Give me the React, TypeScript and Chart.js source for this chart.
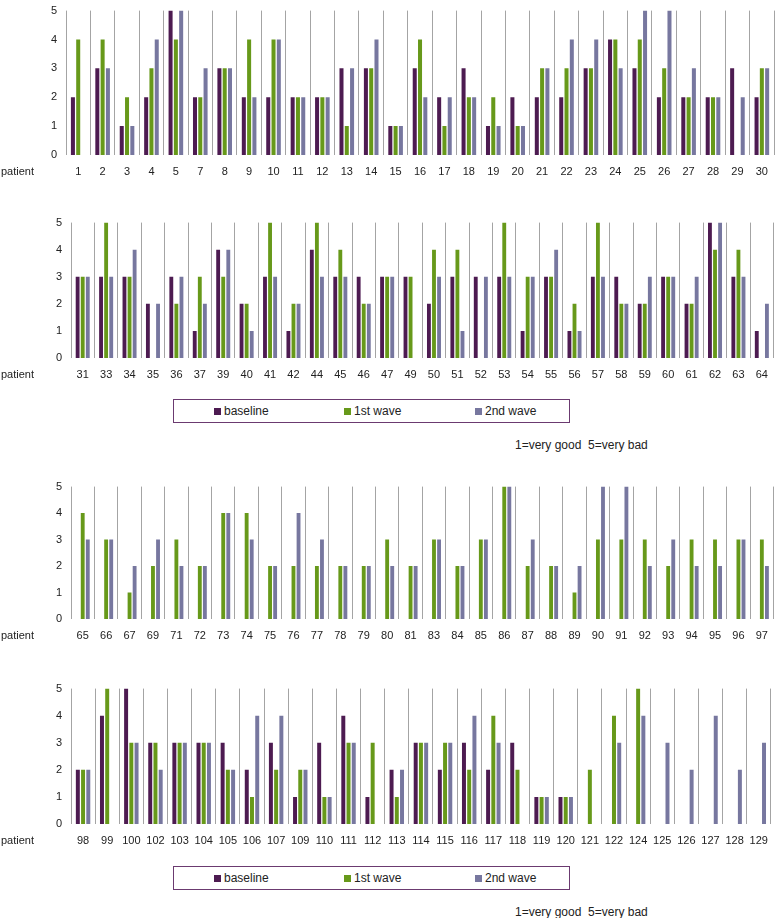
import React, { useEffect, useRef } from 'react';
import { Chart, registerables } from 'chart.js';

Chart.register(...registerables);

const FONT = '"Liberation Sans", Arial, Helvetica, sans-serif';
const C_BASE = '#4d1b51';
const C_W1 = '#67991a';
const C_W2 = '#77779f';
const SERIES_NAMES = ['baseline', '1st wave', '2nd wave'];
const Y_TICKS = [0, 1, 2, 3, 4, 5];
const NOTE = '1=very good  5=very bad';

// Panel 1
const patients1 = ['1', '2', '3', '4', '5', '7', '8', '9', '10', '11', '12', '13', '14', '15', '16', '17', '18', '19', '20', '21', '22', '23', '24', '25', '26', '27', '28', '29', '30'];
const baseline1 = [2, 3, 1, 2, 5, 2, 3, 2, 2, 2, 2, 3, 3, 1, 3, 2, 3, 1, 2, 2, 2, 3, 4, 3, 2, 2, 2, 3, 2];
const wave1_1 = [4, 4, 2, 3, 4, 2, 3, 4, 4, 2, 2, 1, 3, 1, 4, 1, 2, 2, 1, 3, 3, 3, 4, 4, 3, 2, 2, null, 3];
const wave2_1 = [null, 3, 1, 4, 5, 3, 3, 2, 4, 2, 2, 3, 4, 1, 2, 2, 2, 1, 1, 3, 4, 4, 3, 5, 5, 3, 2, 2, 3];

// Panel 2
const patients2 = ['31', '33', '34', '35', '36', '37', '39', '40', '41', '42', '44', '45', '46', '47', '49', '50', '51', '52', '53', '54', '55', '56', '57', '58', '59', '60', '61', '62', '63', '64'];
const baseline2 = [3, 3, 3, 2, 3, 1, 4, 2, 3, 1, 4, 3, 3, 3, 3, 2, 3, 3, 3, 1, 3, 1, 3, 3, 2, 3, 2, 5, 3, 1];
const wave1_2 = [3, 5, 3, null, 2, 3, 3, 2, 5, 2, 5, 4, 2, 3, 3, 4, 4, null, 5, 3, 3, 2, 5, 2, 2, 3, 2, 4, 4, null];
const wave2_2 = [3, 3, 4, 2, 3, 2, 4, 1, 3, 2, 3, 3, 2, 3, null, 3, 1, 3, 3, 3, 4, 1, 3, 2, 3, 3, 3, 5, 3, 2];

// Panel 3
const patients3 = ['65', '66', '67', '69', '71', '72', '73', '74', '75', '76', '77', '78', '79', '80', '81', '83', '84', '85', '86', '87', '88', '89', '90', '91', '92', '93', '94', '95', '96', '97'];
const baseline3 = [null, null, null, null, null, null, null, null, null, null, null, null, null, null, null, null, null, null, null, null, null, null, null, null, null, null, null, null, null, null];
const wave1_3 = [4, 3, 1, 2, 3, 2, 4, 4, 2, 2, 2, 2, 2, 3, 2, 3, 2, 3, 5, 2, 2, 1, 3, 3, 3, 2, 3, 3, 3, 3];
const wave2_3 = [3, 3, 2, 3, 2, 2, 4, 3, 2, 4, 3, 2, 2, 2, 2, 3, 2, 3, 5, 3, 2, 2, 5, 5, 2, 3, 2, 2, 3, 2];

// Panel 4
const patients4 = ['98', '99', '100', '102', '103', '104', '105', '106', '107', '109', '110', '111', '112', '113', '114', '115', '116', '117', '118', '119', '120', '121', '122', '124', '125', '126', '127', '128', '129'];
const baseline4 = [2, 4, 5, 3, 3, 3, 3, 2, 3, 1, 3, 4, 1, 2, 3, 2, 3, 2, 3, 1, 1, null, null, null, null, null, null, null, null];
const wave1_4 = [2, 5, 3, 3, 3, 3, 2, 1, 2, 2, 1, 3, 3, 1, 3, 3, 2, 4, 2, 1, 1, 2, 4, 5, null, null, null, null, null];
const wave2_4 = [2, null, 3, 2, 3, 3, 2, 4, 4, 2, 1, 3, null, 2, 3, 3, 4, 3, null, 1, 1, null, 3, 4, 3, 2, 4, 2, 3];

type Vals = (number | null)[];

interface PanelProps {
  top: number;
  plotHeight: number;
  areaLeft: number;
  labels: string[];
  baseline: Vals;
  wave1: Vals;
  wave2: Vals;
}

const PAD_TOP = 10;
const X_AXIS_H = 30;

function Panel({ top, plotHeight, areaLeft, labels, baseline, wave1, wave2 }: PanelProps) {
  const ref = useRef<HTMLCanvasElement>(null);
  const height = PAD_TOP + plotHeight + X_AXIS_H;
  useEffect(() => {
    const patientLabel = {
      id: 'patientLabel',
      afterDraw(chart: any) {
        const ctx = chart.ctx;
        ctx.save();
        ctx.font = `11px ${FONT}`;
        ctx.fillStyle = '#222';
        ctx.textAlign = 'left';
        ctx.textBaseline = 'middle';
        ctx.fillText('patient', 1, chart.chartArea.bottom + 17);
        ctx.restore();
      },
    };
    const common = { categoryPercentage: 0.65, barPercentage: 0.76 };
    const chart = new Chart(ref.current as HTMLCanvasElement, {
      type: 'bar',
      data: {
        labels,
        datasets: [
          { label: SERIES_NAMES[0], data: baseline, backgroundColor: C_BASE, ...common },
          { label: SERIES_NAMES[1], data: wave1, backgroundColor: C_W1, ...common },
          { label: SERIES_NAMES[2], data: wave2, backgroundColor: C_W2, ...common },
        ],
      },
      options: {
        animation: false,
        responsive: false,
        maintainAspectRatio: false,
        layout: { padding: { top: PAD_TOP, left: 0, right: 2, bottom: 0 } },
        plugins: { legend: { display: false }, tooltip: { enabled: false } },
        scales: {
          x: {
            grid: { display: true, color: '#a4a4a4', lineWidth: 1, drawTicks: false, offset: true },
            border: { display: false },
            ticks: { color: '#222', font: { family: FONT, size: 11 }, padding: 10, maxRotation: 0, autoSkip: false },
            afterFit: (s: any) => { s.height = X_AXIS_H; },
          },
          y: {
            min: 0,
            max: 5,
            grid: { display: false, drawTicks: false },
            border: { display: false },
            afterBuildTicks: (s: any) => { s.ticks = Y_TICKS.map((v) => ({ value: v })); },
            ticks: { color: '#222', font: { family: FONT, size: 11 }, padding: 9 },
            afterFit: (s: any) => { s.width = areaLeft; },
          },
        },
      } as any,
      plugins: [patientLabel],
    });
    return () => chart.destroy();
  }, []);
  return (
    <canvas
      ref={ref}
      width={778}
      height={height}
      style={{ position: 'absolute', left: 0, top: top - PAD_TOP, width: 778, height }}
    />
  );
}

function Legend({ top }: { top: number }) {
  const colors = [C_BASE, C_W1, C_W2];
  const lefts = [40, 170, 301];
  return (
    <div
      style={{
        position: 'absolute',
        left: 173,
        top,
        width: 397,
        height: 24,
        border: '1px solid #6b3a70',
        boxSizing: 'border-box',
        fontFamily: FONT,
        fontSize: 12,
        color: '#222',
      }}
    >
      {SERIES_NAMES.map((n, i) => (
        <div key={n} style={{ position: 'absolute', left: lefts[i], top: 0, height: 22, display: 'flex', alignItems: 'center' }}>
          <span style={{ display: 'inline-block', width: 7, height: 7, background: colors[i], marginRight: 3 }} />
          <span>{n}</span>
        </div>
      ))}
    </div>
  );
}

function Note({ top }: { top: number }) {
  return (
    <div
      style={{
        position: 'absolute',
        left: 515,
        top,
        fontFamily: FONT,
        fontSize: 12,
        color: '#222',
        whiteSpace: 'pre',
        lineHeight: '14px',
      }}
    >
      {NOTE}
    </div>
  );
}

export default function App() {
  return (
    <div style={{ position: 'fixed', left: 0, top: 0, width: 778, height: 918, background: '#fff', overflow: 'hidden' }}>
      <Panel top={5} plotHeight={150} areaLeft={66} labels={patients1} baseline={baseline1} wave1={wave1_1} wave2={wave2_1} />
      <Panel top={217} plotHeight={141} areaLeft={71} labels={patients2} baseline={baseline2} wave1={wave1_2} wave2={wave2_2} />
      <Legend top={399} />
      <Note top={438} />
      <Panel top={481} plotHeight={138} areaLeft={71} labels={patients3} baseline={baseline3} wave1={wave1_3} wave2={wave2_3} />
      <Panel top={683} plotHeight={141} areaLeft={71} labels={patients4} baseline={baseline4} wave1={wave1_4} wave2={wave2_4} />
      <Legend top={866} />
      <Note top={905} />
    </div>
  );
}
